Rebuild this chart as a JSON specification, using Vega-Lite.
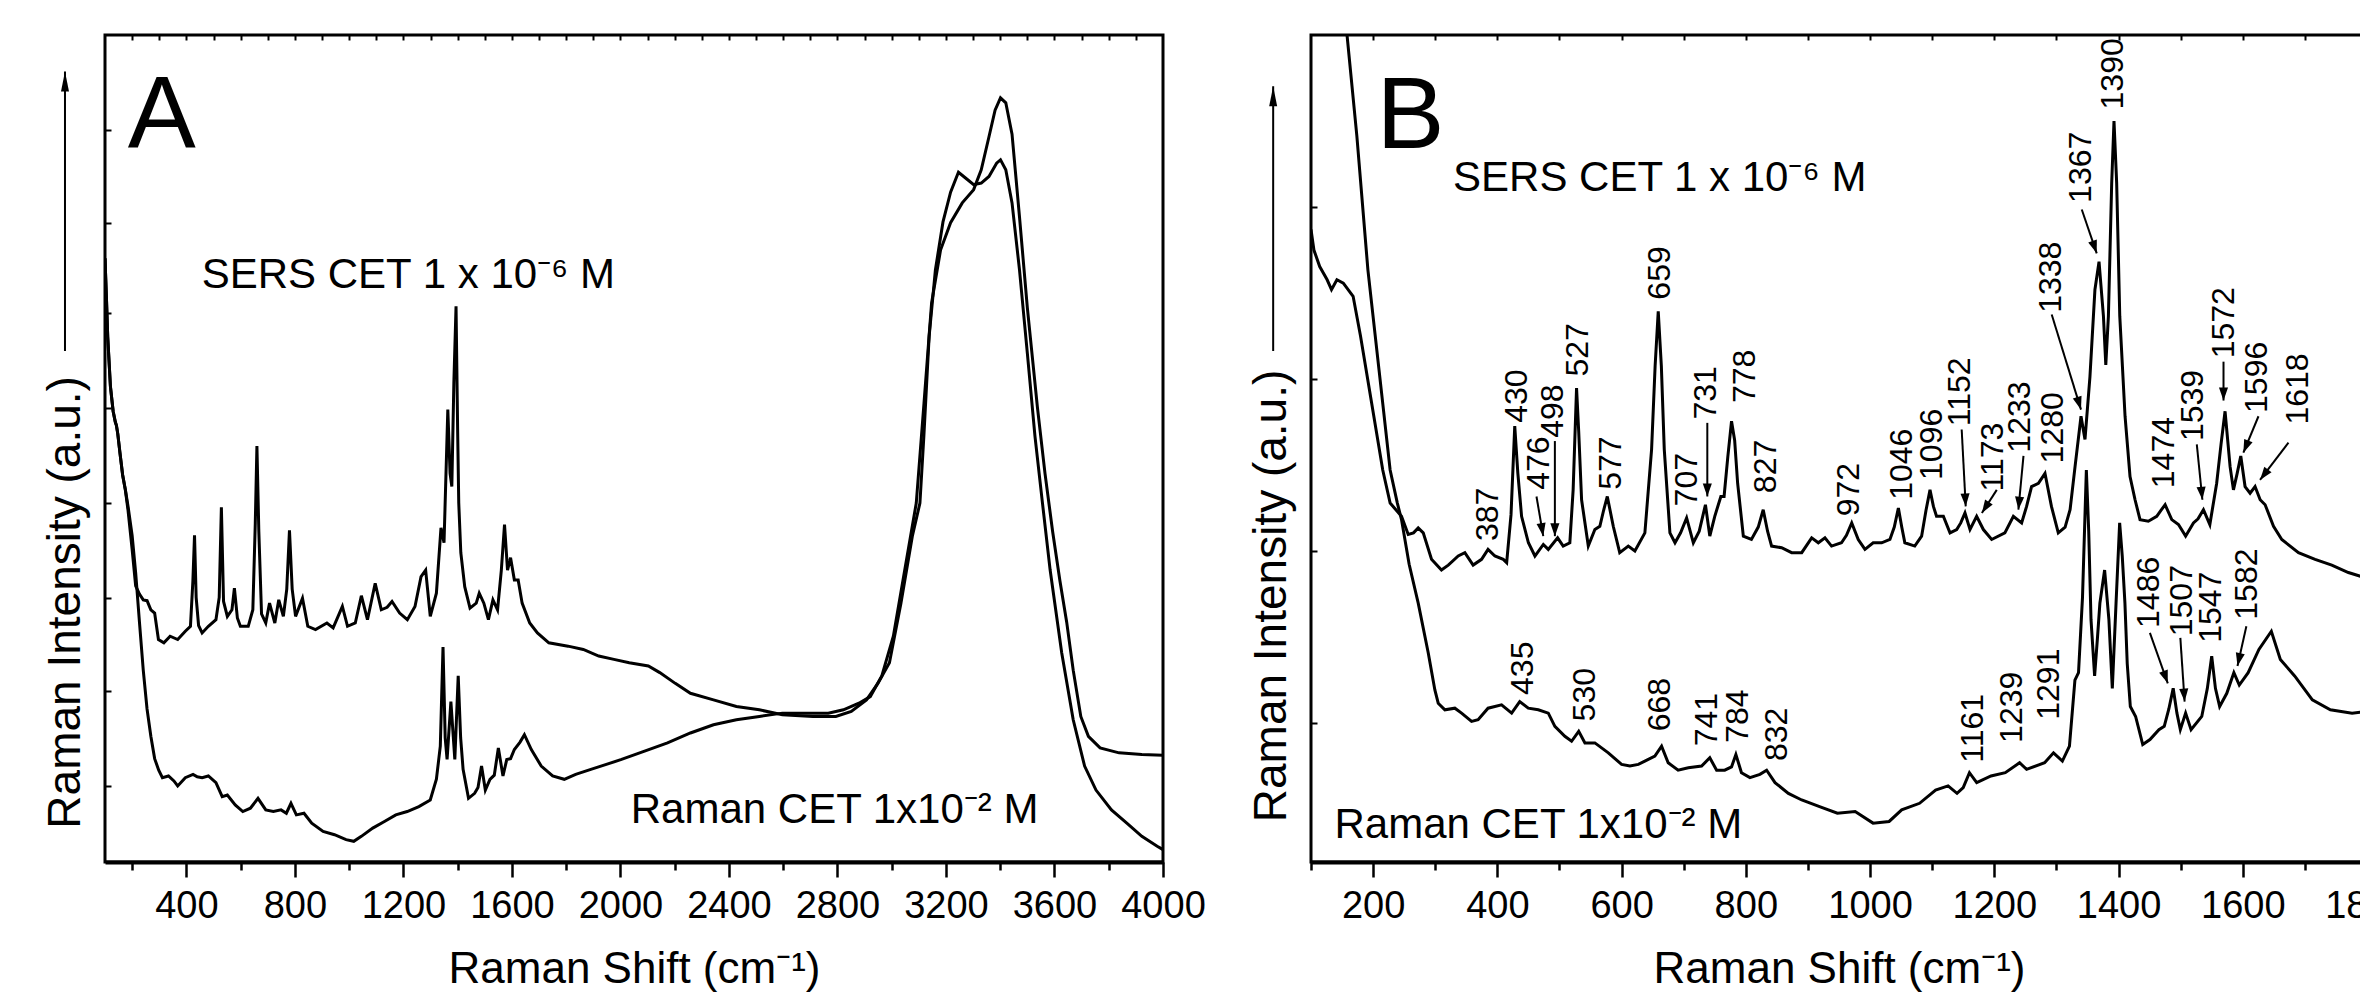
{
  "$schema": "https://vega.github.io/schema/vega-lite/v6.json",
  "padding": {"left": 40, "top": 32, "right": 0, "bottom": 0},
  "background": "white",
  "config": {
    "font": "Liberation Sans",
    "view": {"stroke": "black", "strokeWidth": 3},
    "axis": {"labelFont": "Liberation Sans", "titleFont": "Liberation Sans", "labelColor": "black", "titleColor": "black", "tickColor": "black", "domainColor": "black", "grid": false, "titleFontWeight": "normal", "labelFlush": false, "labelOverlap": false},
    "text": {"font": "Liberation Sans", "color": "black"}
  },
  "spacing": 39,
  "datasets": {
    "specA": [
      {"s":"SERS","w":100,"i":73.0},{"s":"SERS","w":105,"i":68.5},{"s":"SERS","w":110,"i":63.5},{"s":"SERS","w":120,"i":57.5},{"s":"SERS","w":130,"i":54.5},{"s":"SERS","w":138,"i":53.2},{"s":"SERS","w":142,"i":52.8},{"s":"SERS","w":147,"i":51.8},{"s":"SERS","w":155,"i":49.5},{"s":"SERS","w":165,"i":46.8},{"s":"SERS","w":175,"i":45.0},{"s":"SERS","w":185,"i":42.5},{"s":"SERS","w":200,"i":37.8},{"s":"SERS","w":213,"i":33.4},{"s":"SERS","w":227,"i":32.4},{"s":"SERS","w":241,"i":31.7},{"s":"SERS","w":255,"i":31.6},{"s":"SERS","w":269,"i":30.5},{"s":"SERS","w":283,"i":30.1},{"s":"SERS","w":297,"i":26.9},{"s":"SERS","w":317,"i":26.5},{"s":"SERS","w":340,"i":27.3},{"s":"SERS","w":368,"i":26.9},{"s":"SERS","w":396,"i":27.9},{"s":"SERS","w":415,"i":28.5},{"s":"SERS","w":424,"i":34},{"s":"SERS","w":430,"i":39.5},{"s":"SERS","w":436,"i":32},{"s":"SERS","w":445,"i":28.6},{"s":"SERS","w":458,"i":27.7},{"s":"SERS","w":481,"i":28.5},{"s":"SERS","w":509,"i":29.3},{"s":"SERS","w":521,"i":32},{"s":"SERS","w":529,"i":42.9},{"s":"SERS","w":537,"i":31.5},{"s":"SERS","w":551,"i":29.7},{"s":"SERS","w":568,"i":30.5},{"s":"SERS","w":577,"i":33.1},{"s":"SERS","w":588,"i":29.5},{"s":"SERS","w":599,"i":28.5},{"s":"SERS","w":628,"i":28.5},{"s":"SERS","w":645,"i":30.5},{"s":"SERS","w":654,"i":41},{"s":"SERS","w":660,"i":50.3},{"s":"SERS","w":667,"i":40},{"s":"SERS","w":677,"i":30},{"s":"SERS","w":692.6,"i":28.9},{"s":"SERS","w":706.5,"i":31.3},{"s":"SERS","w":726,"i":28.9},{"s":"SERS","w":740.5,"i":31.7},{"s":"SERS","w":757.5,"i":29.7},{"s":"SERS","w":770,"i":33},{"s":"SERS","w":780,"i":40.1},{"s":"SERS","w":790,"i":33},{"s":"SERS","w":802.5,"i":29.7},{"s":"SERS","w":828,"i":31.9},{"s":"SERS","w":847.5,"i":28.5},{"s":"SERS","w":876,"i":28.1},{"s":"SERS","w":918,"i":28.9},{"s":"SERS","w":941,"i":28.3},{"s":"SERS","w":975,"i":30.9},{"s":"SERS","w":994,"i":28.5},{"s":"SERS","w":1022.6,"i":28.9},{"s":"SERS","w":1045,"i":32.2},{"s":"SERS","w":1067.5,"i":29.3},{"s":"SERS","w":1096,"i":33.7},{"s":"SERS","w":1118.5,"i":30.5},{"s":"SERS","w":1140,"i":30.8},{"s":"SERS","w":1158,"i":31.5},{"s":"SERS","w":1186,"i":30.1},{"s":"SERS","w":1214.5,"i":29.3},{"s":"SERS","w":1242.7,"i":30.9},{"s":"SERS","w":1265,"i":34.5},{"s":"SERS","w":1282,"i":35.3},{"s":"SERS","w":1299,"i":29.7},{"s":"SERS","w":1321.6,"i":32.5},{"s":"SERS","w":1338.5,"i":40.4},{"s":"SERS","w":1349.7,"i":38.6},{"s":"SERS","w":1363.7,"i":54.7},{"s":"SERS","w":1372,"i":47},{"s":"SERS","w":1378.5,"i":45.4},{"s":"SERS","w":1386,"i":58},{"s":"SERS","w":1394,"i":67.2},{"s":"SERS","w":1400,"i":52},{"s":"SERS","w":1404,"i":43.4},{"s":"SERS","w":1411.6,"i":37.4},{"s":"SERS","w":1426,"i":33.3},{"s":"SERS","w":1445.5,"i":30.7},{"s":"SERS","w":1468.4,"i":31.3},{"s":"SERS","w":1479.5,"i":32.5},{"s":"SERS","w":1496.5,"i":31.3},{"s":"SERS","w":1513.4,"i":29.3},{"s":"SERS","w":1530,"i":31.7},{"s":"SERS","w":1547,"i":30.5},{"s":"SERS","w":1561,"i":35.3},{"s":"SERS","w":1572.7,"i":40.8},{"s":"SERS","w":1583.8,"i":35.3},{"s":"SERS","w":1595,"i":36.8},{"s":"SERS","w":1609,"i":34.1},{"s":"SERS","w":1623,"i":34.1},{"s":"SERS","w":1637.6,"i":31.3},{"s":"SERS","w":1665.6,"i":28.9},{"s":"SERS","w":1694,"i":27.7},{"s":"SERS","w":1736,"i":26.5},{"s":"SERS","w":1807,"i":26.1},{"s":"SERS","w":1863,"i":25.7},{"s":"SERS","w":1920,"i":24.9},{"s":"SERS","w":1976,"i":24.5},{"s":"SERS","w":2032.5,"i":24.1},{"s":"SERS","w":2103,"i":23.7},{"s":"SERS","w":2145,"i":22.9},{"s":"SERS","w":2202,"i":21.6},{"s":"SERS","w":2258,"i":20.4},{"s":"SERS","w":2343,"i":19.6},{"s":"SERS","w":2427.5,"i":18.8},{"s":"SERS","w":2512,"i":18.4},{"s":"SERS","w":2597,"i":17.8},{"s":"SERS","w":2709.5,"i":17.6},{"s":"SERS","w":2794,"i":17.6},{"s":"SERS","w":2851,"i":18.2},{"s":"SERS","w":2907,"i":19.6},{"s":"SERS","w":2949,"i":21.6},{"s":"SERS","w":2991.6,"i":24.1},{"s":"SERS","w":3034,"i":31.3},{"s":"SERS","w":3076,"i":39.4},{"s":"SERS","w":3104,"i":43.4},{"s":"SERS","w":3118.5,"i":51.5},{"s":"SERS","w":3138,"i":63.6},{"s":"SERS","w":3161,"i":71.6},{"s":"SERS","w":3189,"i":77.4},{"s":"SERS","w":3217,"i":81.0},{"s":"SERS","w":3246,"i":83.4},{"s":"SERS","w":3280,"i":82.5},{"s":"SERS","w":3302,"i":81.9},{"s":"SERS","w":3330,"i":82.1},{"s":"SERS","w":3358.5,"i":82.9},{"s":"SERS","w":3386.6,"i":84.5},{"s":"SERS","w":3401,"i":84.9},{"s":"SERS","w":3420.5,"i":83.7},{"s":"SERS","w":3443.5,"i":79.7},{"s":"SERS","w":3471,"i":71.6},{"s":"SERS","w":3500,"i":61.5},{"s":"SERS","w":3528,"i":51.5},{"s":"SERS","w":3555.7,"i":43.4},{"s":"SERS","w":3584,"i":35.3},{"s":"SERS","w":3626.6,"i":25.3},{"s":"SERS","w":3669,"i":17.2},{"s":"SERS","w":3711,"i":11.6},{"s":"SERS","w":3753,"i":8.7},{"s":"SERS","w":3810,"i":6.3},{"s":"SERS","w":3866.6,"i":4.7},{"s":"SERS","w":3922,"i":3.1},{"s":"SERS","w":3978.6,"i":1.9},{"s":"SERS","w":4000,"i":1.5},
      {"s":"Raman","w":100,"i":73.0},{"s":"Raman","w":105,"i":68.5},{"s":"Raman","w":110,"i":63.5},{"s":"Raman","w":120,"i":57.5},{"s":"Raman","w":130,"i":54.5},{"s":"Raman","w":138,"i":53.2},{"s":"Raman","w":142,"i":52.8},{"s":"Raman","w":147,"i":51.8},{"s":"Raman","w":155,"i":49.5},{"s":"Raman","w":165,"i":46.8},{"s":"Raman","w":175,"i":45.0},{"s":"Raman","w":185,"i":43.0},{"s":"Raman","w":200,"i":39.5},{"s":"Raman","w":213,"i":35.0},{"s":"Raman","w":227,"i":29.0},{"s":"Raman","w":241,"i":23.2},{"s":"Raman","w":255,"i":18.5},{"s":"Raman","w":269,"i":15.2},{"s":"Raman","w":283,"i":12.5},{"s":"Raman","w":298,"i":11.1},{"s":"Raman","w":311.6,"i":10.2},{"s":"Raman","w":334,"i":10.4},{"s":"Raman","w":354,"i":9.8},{"s":"Raman","w":368,"i":9.2},{"s":"Raman","w":396,"i":10.2},{"s":"Raman","w":424.5,"i":10.6},{"s":"Raman","w":440,"i":10.3},{"s":"Raman","w":458,"i":10.2},{"s":"Raman","w":481,"i":10.4},{"s":"Raman","w":509,"i":9.6},{"s":"Raman","w":532,"i":7.9},{"s":"Raman","w":551,"i":8.1},{"s":"Raman","w":580,"i":6.9},{"s":"Raman","w":608,"i":6.1},{"s":"Raman","w":636,"i":6.5},{"s":"Raman","w":664,"i":7.7},{"s":"Raman","w":692.6,"i":6.3},{"s":"Raman","w":720.6,"i":6.1},{"s":"Raman","w":749,"i":6.3},{"s":"Raman","w":768.5,"i":5.9},{"s":"Raman","w":785.5,"i":7.1},{"s":"Raman","w":805.4,"i":5.7},{"s":"Raman","w":833.5,"i":5.9},{"s":"Raman","w":862,"i":4.7},{"s":"Raman","w":904,"i":3.7},{"s":"Raman","w":946,"i":3.3},{"s":"Raman","w":988.6,"i":2.7},{"s":"Raman","w":1017,"i":2.5},{"s":"Raman","w":1045,"i":3.1},{"s":"Raman","w":1087,"i":4.1},{"s":"Raman","w":1130,"i":4.9},{"s":"Raman","w":1172,"i":5.7},{"s":"Raman","w":1214,"i":6.1},{"s":"Raman","w":1257,"i":6.7},{"s":"Raman","w":1299,"i":7.5},{"s":"Raman","w":1321.6,"i":10.0},{"s":"Raman","w":1336,"i":14},{"s":"Raman","w":1346,"i":26.0},{"s":"Raman","w":1354,"i":15},{"s":"Raman","w":1361,"i":12.4},{"s":"Raman","w":1375,"i":19.4},{"s":"Raman","w":1389.5,"i":12.4},{"s":"Raman","w":1402,"i":22.5},{"s":"Raman","w":1411,"i":15},{"s":"Raman","w":1420,"i":11.2},{"s":"Raman","w":1440,"i":7.7},{"s":"Raman","w":1462.5,"i":8.3},{"s":"Raman","w":1475,"i":9},{"s":"Raman","w":1488,"i":11.6},{"s":"Raman","w":1502,"i":8.7},{"s":"Raman","w":1519,"i":10.0},{"s":"Raman","w":1535,"i":10.5},{"s":"Raman","w":1550,"i":13.8},{"s":"Raman","w":1567,"i":10.4},{"s":"Raman","w":1581,"i":12.4},{"s":"Raman","w":1595,"i":12.5},{"s":"Raman","w":1609,"i":13.6},{"s":"Raman","w":1630,"i":14.5},{"s":"Raman","w":1646,"i":15.4},{"s":"Raman","w":1671.5,"i":13.6},{"s":"Raman","w":1708,"i":11.6},{"s":"Raman","w":1750,"i":10.4},{"s":"Raman","w":1793,"i":10.0},{"s":"Raman","w":1835,"i":10.6},{"s":"Raman","w":1891,"i":11.2},{"s":"Raman","w":1948,"i":11.8},{"s":"Raman","w":2004,"i":12.4},{"s":"Raman","w":2089,"i":13.4},{"s":"Raman","w":2173.5,"i":14.4},{"s":"Raman","w":2258,"i":15.6},{"s":"Raman","w":2343,"i":16.6},{"s":"Raman","w":2427.5,"i":17.2},{"s":"Raman","w":2512,"i":17.6},{"s":"Raman","w":2597,"i":18.0},{"s":"Raman","w":2681.5,"i":18.0},{"s":"Raman","w":2766,"i":18.0},{"s":"Raman","w":2822,"i":18.4},{"s":"Raman","w":2879,"i":19.2},{"s":"Raman","w":2921,"i":20.0},{"s":"Raman","w":2963.5,"i":22.5},{"s":"Raman","w":3006,"i":27.3},{"s":"Raman","w":3048,"i":35.3},{"s":"Raman","w":3090.5,"i":43.4},{"s":"Raman","w":3119,"i":55.5},{"s":"Raman","w":3147,"i":67.6},{"s":"Raman","w":3180,"i":74.0},{"s":"Raman","w":3217,"i":77.3},{"s":"Raman","w":3260,"i":79.7},{"s":"Raman","w":3302,"i":81.3},{"s":"Raman","w":3330,"i":83.7},{"s":"Raman","w":3358.5,"i":87.7},{"s":"Raman","w":3381,"i":90.9},{"s":"Raman","w":3401,"i":92.4},{"s":"Raman","w":3420.5,"i":91.8},{"s":"Raman","w":3443.5,"i":88.0},{"s":"Raman","w":3471,"i":78.0},{"s":"Raman","w":3500,"i":67.0},{"s":"Raman","w":3537,"i":55.0},{"s":"Raman","w":3565,"i":47.0},{"s":"Raman","w":3593,"i":40.0},{"s":"Raman","w":3620,"i":34.0},{"s":"Raman","w":3645,"i":29.0},{"s":"Raman","w":3669,"i":23.2},{"s":"Raman","w":3697,"i":17.6},{"s":"Raman","w":3725,"i":15.2},{"s":"Raman","w":3768,"i":13.8},{"s":"Raman","w":3838,"i":13.2},{"s":"Raman","w":3922,"i":13.0},{"s":"Raman","w":4000,"i":12.9}
    ],
    "specB": [
      {"s":"SERS","w":100,"i":76.5},{"s":"SERS","w":104.7,"i":74.0},{"s":"SERS","w":114,"i":72.0},{"s":"SERS","w":126,"i":70.4},{"s":"SERS","w":133,"i":69.2},{"s":"SERS","w":141.7,"i":70.4},{"s":"SERS","w":152,"i":70.0},{"s":"SERS","w":167.8,"i":68.4},{"s":"SERS","w":179.7,"i":63.6},{"s":"SERS","w":197.6,"i":55.5},{"s":"SERS","w":215.5,"i":47.4},{"s":"SERS","w":227.4,"i":43.4},{"s":"SERS","w":245.7,"i":41.8},{"s":"SERS","w":256.5,"i":39.6},{"s":"SERS","w":265,"i":39.8},{"s":"SERS","w":272.6,"i":40.4},{"s":"SERS","w":280.7,"i":39.8},{"s":"SERS","w":294,"i":36.6},{"s":"SERS","w":310,"i":35.3},{"s":"SERS","w":321,"i":35.9},{"s":"SERS","w":337,"i":37.0},{"s":"SERS","w":347.7,"i":37.4},{"s":"SERS","w":361,"i":35.9},{"s":"SERS","w":374.6,"i":36.6},{"s":"SERS","w":385,"i":37.8},{"s":"SERS","w":396,"i":37.0},{"s":"SERS","w":409.5,"i":36.6},{"s":"SERS","w":415,"i":36.2},{"s":"SERS","w":422,"i":42},{"s":"SERS","w":428,"i":52.7},{"s":"SERS","w":433,"i":47},{"s":"SERS","w":439,"i":41.8},{"s":"SERS","w":450,"i":38.6},{"s":"SERS","w":460.5,"i":37.0},{"s":"SERS","w":474,"i":38.4},{"s":"SERS","w":482,"i":37.8},{"s":"SERS","w":497,"i":39.2},{"s":"SERS","w":506,"i":38.2},{"s":"SERS","w":516.7,"i":38.6},{"s":"SERS","w":522,"i":45},{"s":"SERS","w":527.5,"i":57.3},{"s":"SERS","w":531,"i":52},{"s":"SERS","w":535.6,"i":43.8},{"s":"SERS","w":546.4,"i":38.2},{"s":"SERS","w":557,"i":40.2},{"s":"SERS","w":565,"i":40.6},{"s":"SERS","w":571,"i":42.5},{"s":"SERS","w":577,"i":44.2},{"s":"SERS","w":586.6,"i":40.6},{"s":"SERS","w":597,"i":37.4},{"s":"SERS","w":610.8,"i":38.2},{"s":"SERS","w":621.4,"i":37.6},{"s":"SERS","w":637.5,"i":39.8},{"s":"SERS","w":648.3,"i":49.9},{"s":"SERS","w":654,"i":60},{"s":"SERS","w":659,"i":66.6},{"s":"SERS","w":664,"i":60},{"s":"SERS","w":668.7,"i":49.9},{"s":"SERS","w":677.8,"i":39.8},{"s":"SERS","w":686,"i":38.6},{"s":"SERS","w":695,"i":39.8},{"s":"SERS","w":704.7,"i":41.6},{"s":"SERS","w":715.5,"i":38.6},{"s":"SERS","w":725,"i":40},{"s":"SERS","w":735,"i":43.2},{"s":"SERS","w":742,"i":39.4},{"s":"SERS","w":750,"i":41.8},{"s":"SERS","w":759.8,"i":44.2},{"s":"SERS","w":765,"i":44.2},{"s":"SERS","w":771,"i":49},{"s":"SERS","w":777,"i":53.3},{"s":"SERS","w":782,"i":51},{"s":"SERS","w":786.8,"i":45.8},{"s":"SERS","w":796,"i":39.4},{"s":"SERS","w":809,"i":39.0},{"s":"SERS","w":820,"i":40.5},{"s":"SERS","w":828,"i":42.6},{"s":"SERS","w":835,"i":40},{"s":"SERS","w":841.5,"i":38.2},{"s":"SERS","w":857.6,"i":38.0},{"s":"SERS","w":873.8,"i":37.4},{"s":"SERS","w":890,"i":37.4},{"s":"SERS","w":906,"i":39.2},{"s":"SERS","w":916.7,"i":38.6},{"s":"SERS","w":927.4,"i":39.2},{"s":"SERS","w":938,"i":38.2},{"s":"SERS","w":954,"i":38.6},{"s":"SERS","w":962,"i":39.5},{"s":"SERS","w":970.5,"i":41.0},{"s":"SERS","w":981,"i":39.0},{"s":"SERS","w":991.8,"i":37.8},{"s":"SERS","w":1005,"i":38.6},{"s":"SERS","w":1018.7,"i":38.6},{"s":"SERS","w":1032,"i":39.0},{"s":"SERS","w":1039,"i":40.5},{"s":"SERS","w":1045.6,"i":42.8},{"s":"SERS","w":1051,"i":40.5},{"s":"SERS","w":1056,"i":38.6},{"s":"SERS","w":1072,"i":38.2},{"s":"SERS","w":1083,"i":39.4},{"s":"SERS","w":1090,"i":42.5},{"s":"SERS","w":1096.5,"i":45.0},{"s":"SERS","w":1102,"i":43},{"s":"SERS","w":1107,"i":41.8},{"s":"SERS","w":1118,"i":41.8},{"s":"SERS","w":1128.7,"i":39.8},{"s":"SERS","w":1139.5,"i":40.2},{"s":"SERS","w":1146,"i":41},{"s":"SERS","w":1152.8,"i":42.2},{"s":"SERS","w":1160.9,"i":40.2},{"s":"SERS","w":1171.6,"i":41.8},{"s":"SERS","w":1182.4,"i":40.2},{"s":"SERS","w":1195.8,"i":39.0},{"s":"SERS","w":1217,"i":39.8},{"s":"SERS","w":1230.7,"i":41.8},{"s":"SERS","w":1244,"i":41.0},{"s":"SERS","w":1252,"i":43},{"s":"SERS","w":1260,"i":45.4},{"s":"SERS","w":1271,"i":45.8},{"s":"SERS","w":1281.6,"i":47.0},{"s":"SERS","w":1292,"i":43.0},{"s":"SERS","w":1303,"i":39.8},{"s":"SERS","w":1314,"i":40.5},{"s":"SERS","w":1322,"i":42.6},{"s":"SERS","w":1330,"i":47.8},{"s":"SERS","w":1339.6,"i":53.9},{"s":"SERS","w":1346,"i":51.1},{"s":"SERS","w":1354,"i":58.7},{"s":"SERS","w":1362,"i":69.2},{"s":"SERS","w":1368.6,"i":72.6},{"s":"SERS","w":1375.7,"i":66.0},{"s":"SERS","w":1379.5,"i":60.1},{"s":"SERS","w":1383.7,"i":66.0},{"s":"SERS","w":1389,"i":82.1},{"s":"SERS","w":1392.7,"i":89.6},{"s":"SERS","w":1397,"i":82.1},{"s":"SERS","w":1402,"i":66.0},{"s":"SERS","w":1410.5,"i":53.9},{"s":"SERS","w":1418.5,"i":46.6},{"s":"SERS","w":1426.6,"i":43.8},{"s":"SERS","w":1434.6,"i":41.4},{"s":"SERS","w":1448,"i":41.2},{"s":"SERS","w":1461.5,"i":41.8},{"s":"SERS","w":1468,"i":42.5},{"s":"SERS","w":1475,"i":43.2},{"s":"SERS","w":1485.7,"i":41.4},{"s":"SERS","w":1496.5,"i":40.8},{"s":"SERS","w":1508,"i":39.4},{"s":"SERS","w":1520.6,"i":41.0},{"s":"SERS","w":1528,"i":41.5},{"s":"SERS","w":1536.7,"i":42.6},{"s":"SERS","w":1547,"i":40.8},{"s":"SERS","w":1558,"i":45.8},{"s":"SERS","w":1565,"i":50.5},{"s":"SERS","w":1571.5,"i":54.5},{"s":"SERS","w":1579.6,"i":47.8},{"s":"SERS","w":1585,"i":45.0},{"s":"SERS","w":1591,"i":47},{"s":"SERS","w":1596.8,"i":49.1},{"s":"SERS","w":1603.7,"i":45.4},{"s":"SERS","w":1611.8,"i":44.6},{"s":"SERS","w":1619.8,"i":45.4},{"s":"SERS","w":1628,"i":43.8},{"s":"SERS","w":1636,"i":43.2},{"s":"SERS","w":1649.5,"i":40.6},{"s":"SERS","w":1662.8,"i":39.0},{"s":"SERS","w":1689.7,"i":37.4},{"s":"SERS","w":1716.4,"i":36.6},{"s":"SERS","w":1743.3,"i":35.9},{"s":"SERS","w":1770,"i":35.0},{"s":"SERS","w":1800,"i":34.3},
      {"s":"Raman","w":100,"i":135},{"s":"Raman","w":130,"i":118},{"s":"Raman","w":150,"i":104},{"s":"Raman","w":158,"i":100},{"s":"Raman","w":173.8,"i":87.8},{"s":"Raman","w":191.6,"i":71.6},{"s":"Raman","w":209.5,"i":59.5},{"s":"Raman","w":227.4,"i":47.4},{"s":"Raman","w":239,"i":43.4},{"s":"Raman","w":245.7,"i":41.4},{"s":"Raman","w":258,"i":36.0},{"s":"Raman","w":272.6,"i":31.3},{"s":"Raman","w":288.7,"i":25.3},{"s":"Raman","w":299.4,"i":20.8},{"s":"Raman","w":304.8,"i":19.2},{"s":"Raman","w":315.5,"i":18.4},{"s":"Raman","w":331.6,"i":18.6},{"s":"Raman","w":342.4,"i":18.0},{"s":"Raman","w":358.5,"i":17.0},{"s":"Raman","w":369,"i":17.2},{"s":"Raman","w":385,"i":18.6},{"s":"Raman","w":406.8,"i":19.0},{"s":"Raman","w":423,"i":18.0},{"s":"Raman","w":436,"i":19.4},{"s":"Raman","w":449.8,"i":18.6},{"s":"Raman","w":465.9,"i":18.4},{"s":"Raman","w":482,"i":18.0},{"s":"Raman","w":492.6,"i":16.4},{"s":"Raman","w":508.7,"i":15.2},{"s":"Raman","w":519.5,"i":14.6},{"s":"Raman","w":531,"i":15.8},{"s":"Raman","w":541,"i":14.4},{"s":"Raman","w":557,"i":14.4},{"s":"Raman","w":578.6,"i":13.2},{"s":"Raman","w":600,"i":11.8},{"s":"Raman","w":613.4,"i":11.6},{"s":"Raman","w":627,"i":11.8},{"s":"Raman","w":643,"i":12.4},{"s":"Raman","w":653.6,"i":12.8},{"s":"Raman","w":664.4,"i":14.0},{"s":"Raman","w":675,"i":12.0},{"s":"Raman","w":691,"i":11.1},{"s":"Raman","w":707.4,"i":11.4},{"s":"Raman","w":728.8,"i":11.6},{"s":"Raman","w":742,"i":12.6},{"s":"Raman","w":753,"i":11.1},{"s":"Raman","w":766,"i":11.1},{"s":"Raman","w":777,"i":11.5},{"s":"Raman","w":784,"i":13.0},{"s":"Raman","w":793,"i":10.8},{"s":"Raman","w":806.6,"i":10.2},{"s":"Raman","w":822.7,"i":10.6},{"s":"Raman","w":833.5,"i":11.1},{"s":"Raman","w":847,"i":9.6},{"s":"Raman","w":868.5,"i":8.3},{"s":"Raman","w":890,"i":7.5},{"s":"Raman","w":918.7,"i":6.7},{"s":"Raman","w":947.4,"i":5.9},{"s":"Raman","w":976,"i":6.1},{"s":"Raman","w":1004.8,"i":4.7},{"s":"Raman","w":1030.7,"i":4.9},{"s":"Raman","w":1050.9,"i":6.3},{"s":"Raman","w":1079.7,"i":7.1},{"s":"Raman","w":1105.5,"i":8.7},{"s":"Raman","w":1125.6,"i":9.2},{"s":"Raman","w":1140,"i":8.3},{"s":"Raman","w":1150,"i":9},{"s":"Raman","w":1160,"i":10.8},{"s":"Raman","w":1171.7,"i":9.6},{"s":"Raman","w":1194.7,"i":10.4},{"s":"Raman","w":1217.7,"i":10.8},{"s":"Raman","w":1240.7,"i":12.0},{"s":"Raman","w":1252,"i":11.2},{"s":"Raman","w":1281,"i":12.0},{"s":"Raman","w":1295.3,"i":13.2},{"s":"Raman","w":1309.6,"i":12.2},{"s":"Raman","w":1321,"i":14.0},{"s":"Raman","w":1329.8,"i":22.0},{"s":"Raman","w":1335.6,"i":22.9},{"s":"Raman","w":1342,"i":32},{"s":"Raman","w":1348.2,"i":47.4},{"s":"Raman","w":1352,"i":40},{"s":"Raman","w":1355.7,"i":29.3},{"s":"Raman","w":1361.5,"i":22.5},{"s":"Raman","w":1366,"i":27},{"s":"Raman","w":1370,"i":31.3},{"s":"Raman","w":1377.6,"i":35.3},{"s":"Raman","w":1384.5,"i":29.3},{"s":"Raman","w":1390,"i":21.0},{"s":"Raman","w":1396,"i":31.3},{"s":"Raman","w":1401.8,"i":41.0},{"s":"Raman","w":1406,"i":37},{"s":"Raman","w":1410.3,"i":31.3},{"s":"Raman","w":1414,"i":24},{"s":"Raman","w":1419,"i":18.8},{"s":"Raman","w":1427.5,"i":17.6},{"s":"Raman","w":1439,"i":14.2},{"s":"Raman","w":1450.6,"i":14.8},{"s":"Raman","w":1465,"i":16.0},{"s":"Raman","w":1473.6,"i":16.4},{"s":"Raman","w":1481,"i":18.5},{"s":"Raman","w":1488,"i":21.0},{"s":"Raman","w":1494,"i":18},{"s":"Raman","w":1499.5,"i":16.0},{"s":"Raman","w":1508,"i":18.0},{"s":"Raman","w":1516.8,"i":16.0},{"s":"Raman","w":1534,"i":17.6},{"s":"Raman","w":1543,"i":21},{"s":"Raman","w":1550,"i":24.9},{"s":"Raman","w":1556,"i":21},{"s":"Raman","w":1562.8,"i":18.8},{"s":"Raman","w":1574.3,"i":20.4},{"s":"Raman","w":1585.7,"i":22.9},{"s":"Raman","w":1594.4,"i":21.4},{"s":"Raman","w":1608.7,"i":22.9},{"s":"Raman","w":1626,"i":25.7},{"s":"Raman","w":1646,"i":27.9},{"s":"Raman","w":1660.5,"i":24.5},{"s":"Raman","w":1683.5,"i":22.5},{"s":"Raman","w":1712,"i":19.6},{"s":"Raman","w":1741,"i":18.4},{"s":"Raman","w":1776,"i":18.0},{"s":"Raman","w":1800,"i":18.2}
    ],
    "labelsB": [
      {"w":385,"i":38.8,"t":"387"},{"w":432,"i":53.1,"t":"430"},{"w":466.8,"i":45.0,"t":"476"},{"w":490,"i":51.3,"t":"498"},{"w":530,"i":58.7,"t":"527"},{"w":582.8,"i":45.0,"t":"577"},{"w":662.3,"i":68.0,"t":"659"},{"w":705.8,"i":43.0,"t":"707"},{"w":735.3,"i":53.5,"t":"731"},{"w":798.5,"i":55.5,"t":"778"},{"w":832,"i":44.6,"t":"827"},{"w":966,"i":41.8,"t":"972"},{"w":1052,"i":43.8,"t":"1046"},{"w":1099,"i":46.2,"t":"1096"},{"w":1144.8,"i":52.7,"t":"1152"},{"w":1198.5,"i":44.8,"t":"1173"},{"w":1241,"i":49.5,"t":"1233"},{"w":1295,"i":48.2,"t":"1280"},{"w":1291,"i":66.4,"t":"1338"},{"w":1339.6,"i":79.7,"t":"1367"},{"w":1390.8,"i":91.0,"t":"1390"},{"w":1474,"i":45.2,"t":"1474"},{"w":1520.6,"i":50.9,"t":"1539"},{"w":1570,"i":60.9,"t":"1572"},{"w":1623.6,"i":54.3,"t":"1596"},{"w":1689.7,"i":52.9,"t":"1618"},
      {"w":441.7,"i":20.2,"t":"435"},{"w":541,"i":17.0,"t":"530"},{"w":661.7,"i":15.8,"t":"668"},{"w":737,"i":14.0,"t":"741"},{"w":788,"i":14.4,"t":"784"},{"w":849.6,"i":12.2,"t":"832"},{"w":1166,"i":12.0,"t":"1161"},{"w":1228,"i":14.4,"t":"1239"},{"w":1287.6,"i":17.2,"t":"1291"},{"w":1448.7,"i":28.3,"t":"1486"},{"w":1502,"i":27.3,"t":"1507"},{"w":1548.3,"i":26.5,"t":"1547"},{"w":1607.5,"i":29.3,"t":"1582"}
    ],
    "arrowsB": [
      {"w":463,"i":44.2,"w2":473.9,"i2":39.4},{"w":492.6,"i":50.9,"w2":492.6,"i2":39.4},{"w":738,"i":53.1,"w2":738,"i2":44.2},{"w":1147.5,"i":52.3,"w2":1154,"i2":43.0},{"w":1204,"i":45.0,"w2":1180,"i2":42.2},{"w":1247,"i":49.1,"w2":1238.8,"i2":42.6},{"w":1292.4,"i":66.2,"w2":1339.6,"i2":54.7},{"w":1340.8,"i":78.9,"w2":1364.9,"i2":73.6},{"w":1526,"i":50.5,"w2":1535,"i2":43.8},{"w":1569,"i":60.5,"w2":1569,"i2":55.8},{"w":1625.3,"i":53.9,"w2":1601,"i2":49.5},{"w":1673.6,"i":50.7,"w2":1627.8,"i2":46.2},{"w":1450.5,"i":27.7,"w2":1479.3,"i2":21.6},{"w":1499.5,"i":27.1,"w2":1506.4,"i2":19.4},{"w":1605.8,"i":28.5,"w2":1591.5,"i2":23.7}
    ]
  },
  "hconcat": [
    {
      "width": 1058,
      "height": 827,
      "resolve": {"axis": {"x": "independent", "y": "independent"}},
      "layer": [
        {
          "data": {"name": "specA"},
          "mark": {"type": "line", "color": "black", "strokeWidth": 3, "clip": true},
          "encoding": {
            "x": {"field": "w", "type": "quantitative", "scale": {"domain": [100, 4000], "nice": false, "zero": false},
              "axis": {"orient": "bottom", "values": [200,400,600,800,1000,1200,1400,1600,1800,2000,2200,2400,2600,2800,3000,3200,3400,3600,3800,4000], "format": "d", "labelExpr": "datum.value % 400 === 0 ? datum.label : ''", "labelFontSize": 38, "labelPadding": 10, "tickSize": {"condition": {"test": "datum.value % 400 === 0", "value": 15}, "value": 8}, "tickWidth": 2.5, "domainWidth": 4, "title": "Raman Shift (cm⁻¹)", "titleFontSize": 44, "titlePadding": 22}},
            "y": {"field": "i", "type": "quantitative", "scale": {"domain": [0, 100], "nice": false},
              "axis": {"orient": "left", "values": [9.2, 20.7, 31.9, 43.4, 54.9, 66.4, 77.3, 88.5], "labels": false, "tickSize": -6, "tickWidth": 2, "domain": false, "title": "Raman Intensity (a.u.)\u00a0\u00a0\u00a0\u00a0\u00a0\u00a0\u00a0\u00a0\u00a0\u00a0\u00a0\u00a0\u00a0\u00a0\u00a0\u00a0\u00a0\u00a0\u00a0\u00a0\u00a0\u00a0\u00a0\u00a0\u200b", "titleFontSize": 46, "titlePadding": 15}},
            "detail": {"field": "s"}
          }
        },
        {
          "data": {"values": [{"w": 456.6, "i": 69.4, "t": "SERS CET 1 x 10⁻⁶ M"}, {"w": 2038, "i": 4.7, "t": "Raman CET 1x10⁻² M"}]},
          "mark": {"type": "text", "align": "left", "baseline": "alphabetic", "fontSize": 42},
          "encoding": {
            "x": {"field": "w", "type": "quantitative", "scale": {"domain": [100, 4000], "nice": false, "zero": false},
              "axis": {"orient": "top", "values": [200,300,400,500,600,700,800,900,1000,1100,1200,1300,1400,1500,1600,1700,1800,1900,2000,2100,2200,2300,2400,2500,2600,2700,2800,2900,3000,3100,3200,3300,3400,3500,3600,3700,3800,3900], "labels": false, "domain": false, "tickSize": -5, "tickWidth": 2, "title": null}},
            "y": {"field": "i", "type": "quantitative", "scale": {"domain": [0, 100], "nice": false}, "axis": null},
            "text": {"field": "t"}
          }
        },
        {
          "data": {"values": [{"w": 183.7, "i": 86.3, "t": "A"}]},
          "mark": {"type": "text", "align": "left", "baseline": "alphabetic", "fontSize": 102},
          "encoding": {
            "x": {"field": "w", "type": "quantitative", "scale": {"domain": [100, 4000], "nice": false, "zero": false}, "axis": null},
            "y": {"field": "i", "type": "quantitative", "scale": {"domain": [0, 100], "nice": false}, "axis": null},
            "text": {"field": "t"}
          }
        },
        {
          "data": {"values": [{"w": -47.5, "i": 61.8, "tip": 95.6}]},
          "mark": {"type": "rule", "color": "black", "strokeWidth": 2, "clip": false},
          "encoding": {
            "x": {"field": "w", "type": "quantitative", "scale": {"domain": [100, 4000], "nice": false, "zero": false}, "axis": null},
            "y": {"field": "i", "type": "quantitative", "scale": {"domain": [0, 100], "nice": false}, "axis": null},
            "y2": {"field": "tip"}
          }
        },
        {
          "data": {"values": [{"w": -47.5, "tip": 95.6}]},
          "mark": {"type": "point", "shape": "M0,0L-0.2,1L0.2,1Z", "size": 1600, "filled": true, "color": "black", "opacity": 1, "clip": false},
          "encoding": {
            "x": {"field": "w", "type": "quantitative", "scale": {"domain": [100, 4000], "nice": false, "zero": false}, "axis": null},
            "y": {"field": "tip", "type": "quantitative", "scale": {"domain": [0, 100], "nice": false}, "axis": null}
          }
        }
      ]
    },
    {
      "width": 1056,
      "height": 827,
      "resolve": {"axis": {"x": "independent", "y": "independent"}},
      "layer": [
        {
          "data": {"name": "specB"},
          "mark": {"type": "line", "color": "black", "strokeWidth": 3, "clip": true},
          "encoding": {
            "x": {"field": "w", "type": "quantitative", "scale": {"domain": [100, 1800], "nice": false, "zero": false},
              "axis": {"orient": "bottom", "values": [100,200,300,400,500,600,700,800,900,1000,1100,1200,1300,1400,1500,1600,1700,1800], "format": "d", "labelExpr": "datum.value % 200 === 0 ? datum.label : ''", "labelFontSize": 38, "labelPadding": 10, "tickSize": {"condition": {"test": "datum.value % 200 === 0", "value": 15}, "value": 8}, "tickWidth": 2.5, "domainWidth": 4, "title": "Raman Shift (cm⁻¹)", "titleFontSize": 44, "titlePadding": 22}},
            "y": {"field": "i", "type": "quantitative", "scale": {"domain": [0, 100], "nice": false},
              "axis": {"orient": "left", "values": [16.8, 37.6, 58.4, 79.2], "labels": false, "tickSize": -6, "tickWidth": 2, "domain": false, "title": "Raman Intensity (a.u.)\u00a0\u00a0\u00a0\u00a0\u00a0\u00a0\u00a0\u00a0\u00a0\u00a0\u00a0\u00a0\u00a0\u00a0\u00a0\u00a0\u00a0\u00a0\u00a0\u00a0\u00a0\u00a0\u00a0\u200b", "titleFontSize": 46, "titlePadding": 15}},
            "detail": {"field": "s"}
          }
        },
        {
          "data": {"values": [{"w": 328.7, "i": 81.1, "t": "SERS CET 1 x 10⁻⁶ M"}, {"w": 137.8, "i": 2.9, "t": "Raman CET 1x10⁻² M"}]},
          "mark": {"type": "text", "align": "left", "baseline": "alphabetic", "fontSize": 42},
          "encoding": {
            "x": {"field": "w", "type": "quantitative", "scale": {"domain": [100, 1800], "nice": false, "zero": false},
              "axis": {"orient": "top", "values": [200,300,400,500,600,700,800,900,1000,1100,1200,1300,1400,1500,1600,1700,1800], "labels": false, "domain": false, "tickSize": -5, "tickWidth": 2, "title": null}},
            "y": {"field": "i", "type": "quantitative", "scale": {"domain": [0, 100], "nice": false}, "axis": null},
            "text": {"field": "t"}
          }
        },
        {
          "data": {"values": [{"w": 205.4, "i": 86.3, "t": "B"}]},
          "mark": {"type": "text", "align": "left", "baseline": "alphabetic", "fontSize": 102},
          "encoding": {
            "x": {"field": "w", "type": "quantitative", "scale": {"domain": [100, 1800], "nice": false, "zero": false}, "axis": null},
            "y": {"field": "i", "type": "quantitative", "scale": {"domain": [0, 100], "nice": false}, "axis": null},
            "text": {"field": "t"}
          }
        },
        {
          "data": {"name": "labelsB"},
          "mark": {"type": "text", "angle": 270, "align": "left", "baseline": "middle", "fontSize": 32, "font": "Liberation Sans Narrow, Liberation Sans"},
          "encoding": {
            "x": {"field": "w", "type": "quantitative", "scale": {"domain": [100, 1800], "nice": false, "zero": false}, "axis": null},
            "y": {"field": "i", "type": "quantitative", "scale": {"domain": [0, 100], "nice": false}, "axis": null},
            "text": {"field": "t"}
          }
        },
        {
          "data": {"name": "arrowsB"},
          "mark": {"type": "rule", "color": "black", "strokeWidth": 2},
          "encoding": {
            "x": {"field": "w", "type": "quantitative", "scale": {"domain": [100, 1800], "nice": false, "zero": false}, "axis": null},
            "y": {"field": "i", "type": "quantitative", "scale": {"domain": [0, 100], "nice": false}, "axis": null},
            "x2": {"field": "w2"},
            "y2": {"field": "i2"}
          }
        },
        {
          "data": {"name": "arrowsB"},
          "transform": [{"calculate": "atan2(-(datum.w2 - datum.w) * 0.621, (datum.i - datum.i2) * 8.27) * 180 / PI", "as": "ang"}],
          "mark": {"type": "point", "shape": "M0,0L-0.35,-1L0.35,-1Z", "size": 676, "filled": true, "color": "black", "opacity": 1},
          "encoding": {
            "x": {"field": "w2", "type": "quantitative", "scale": {"domain": [100, 1800], "nice": false, "zero": false}, "axis": null},
            "y": {"field": "i2", "type": "quantitative", "scale": {"domain": [0, 100], "nice": false}, "axis": null},
            "angle": {"field": "ang", "type": "quantitative", "scale": null}
          }
        },
        {
          "data": {"values": [{"w": 39.1, "i": 61.8, "tip": 93.8}]},
          "mark": {"type": "rule", "color": "black", "strokeWidth": 2, "clip": false},
          "encoding": {
            "x": {"field": "w", "type": "quantitative", "scale": {"domain": [100, 1800], "nice": false, "zero": false}, "axis": null},
            "y": {"field": "i", "type": "quantitative", "scale": {"domain": [0, 100], "nice": false}, "axis": null},
            "y2": {"field": "tip"}
          }
        },
        {
          "data": {"values": [{"w": 39.1, "tip": 93.8}]},
          "mark": {"type": "point", "shape": "M0,0L-0.2,1L0.2,1Z", "size": 1600, "filled": true, "color": "black", "opacity": 1, "clip": false},
          "encoding": {
            "x": {"field": "w", "type": "quantitative", "scale": {"domain": [100, 1800], "nice": false, "zero": false}, "axis": null},
            "y": {"field": "tip", "type": "quantitative", "scale": {"domain": [0, 100], "nice": false}, "axis": null}
          }
        }
      ]
    }
  ]
}
